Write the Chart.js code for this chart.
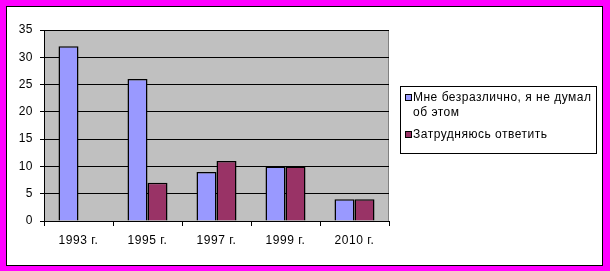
<!DOCTYPE html>
<html>
<head>
<meta charset="utf-8">
<script src="https://cdn.jsdelivr.net/npm/chart.js@4.4.1/dist/chart.umd.min.js"></script>
<style>
    html, body { margin: 0; padding: 0; background: #fff; }
    #wrap { width: 610px; height: 271px; }
</style>
</head>
<body>
<div id="wrap"><canvas id="chart" width="610" height="271"></canvas></div>
<script>
// Data
const years = ['1993 г.', '1995 г.', '1997 г.', '1999 г.', '2010 г.'];
const indifferent = [32, 26, 9, 10, 4];
const hardToSay = [null, 7, 11, 10, 4];
const seriesNames = [['Мне безразлично, я не думал', 'об этом'], ['Затрудняюсь ответить']];
const yTicks = [0, 5, 10, 15, 20, 25, 30, 35];

const FONT = '"Liberation Sans", Arial, sans-serif';
const SPACING = '0.5px';

// Frame + grey plot background
const backdrop = {
    id: 'backdrop',
    beforeDraw(chart) {
        const ctx = chart.ctx;
        const a = chart.chartArea;
        ctx.save();
        ctx.fillStyle = '#FF00FF';
        ctx.fillRect(0, 0, chart.width, chart.height);
        ctx.fillStyle = '#fff';
        ctx.fillRect(6, 6, 597, 260);
        ctx.strokeStyle = '#000';
        ctx.lineWidth = 1;
        ctx.strokeRect(6.5, 6.5, 596, 259);
        ctx.fillStyle = '#C0C0C0';
        ctx.fillRect(a.left, a.top, a.right - a.left, a.bottom - a.top);
        ctx.strokeStyle = '#808080';
        ctx.strokeRect(a.left + 0.5, a.top + 0.5, a.right - a.left - 1, a.bottom - a.top);
        ctx.restore();
        // the old Excel text is a bit wider
        ctx.letterSpacing = SPACING;
    }
};

// Excel style legend box with wrapped text
const boxLegend = {
    id: 'boxLegend',
    afterDraw(chart) {
        const ctx = chart.ctx;
        ctx.save();
        ctx.strokeStyle = '#000';
        ctx.lineWidth = 1;
        ctx.strokeRect(400.5, 86.5, 196, 67);
        ctx.font = '12px ' + FONT;
        ctx.textBaseline = 'middle';
        ctx.letterSpacing = SPACING;
        let y = 98;
        chart.data.datasets.forEach((ds, i) => {
            ctx.fillStyle = ds.backgroundColor;
            ctx.fillRect(405.5, y - 3.5, 6, 6);
            ctx.strokeRect(405.5, y - 3.5, 6, 6);
            ctx.fillStyle = '#000';
            seriesNames[i].forEach((line, j) => {
                ctx.fillText(line, 413, y + j * 15);
            });
            y += seriesNames[i].length * 15 + 7;
        });
        ctx.restore();
    }
};

const ctx = document.getElementById('chart').getContext('2d');

new Chart(ctx, {
    type: 'bar',
    data: {
        labels: years,
        datasets: [{
            label: seriesNames[0].join(' '),
            data: indifferent,
            backgroundColor: '#9999FF',
            borderColor: '#000',
            borderWidth: 1.5
        }, {
            label: seriesNames[1].join(' '),
            data: hardToSay,
            backgroundColor: '#993366',
            borderColor: '#000',
            borderWidth: 1.5
        }]
    },
    options: {
        responsive: false,
        animation: false,
        events: [],
        layout: {
            padding: { left: 0, top: 30, right: 221, bottom: 0 }
        },
        datasets: {
            bar: { categoryPercentage: 0.58, barPercentage: 1 }
        },
        plugins: {
            legend: { display: false },
            tooltip: { enabled: false }
        },
        scales: {
            x: {
                afterFit(scale) { scale.height = 50; },
                grid: {
                    offset: true,
                    drawOnChartArea: false,
                    tickLength: 5,
                    color: '#000'
                },
                border: { color: '#000', width: 1 },
                ticks: {
                    color: '#000',
                    padding: 7,
                    font: { family: FONT, size: 12 }
                }
            },
            y: {
                min: 0,
                max: 35,
                afterFit(scale) { scale.width = 44; },
                afterBuildTicks(scale) { scale.ticks = yTicks.map(v => ({ value: v })); },
                grid: {
                    color: '#000',
                    tickLength: 4
                },
                border: { color: '#000', width: 1 },
                ticks: {
                    color: '#000',
                    padding: 7,
                    font: { family: FONT, size: 12 }
                }
            }
        }
    },
    plugins: [backdrop, boxLegend]
});
</script>
</body>
</html>
